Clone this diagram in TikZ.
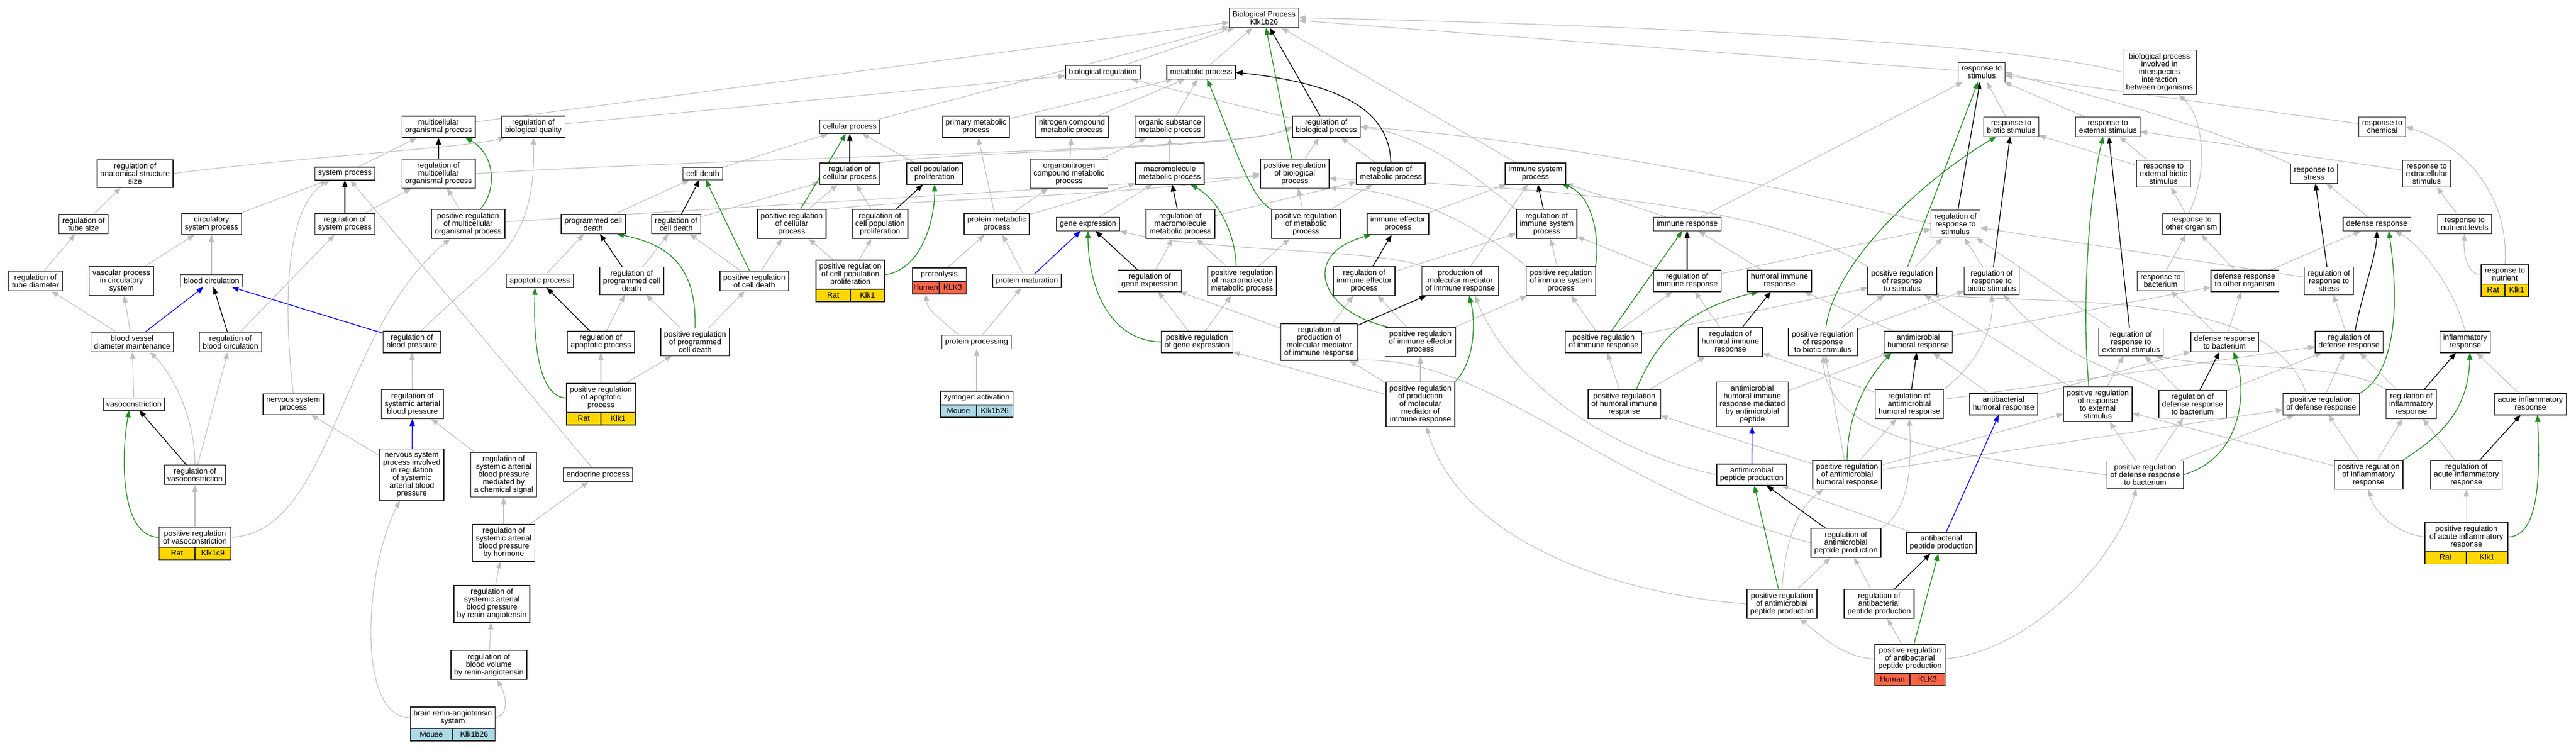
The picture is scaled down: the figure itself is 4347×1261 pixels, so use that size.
\documentclass[tikz,border=0pt]{standalone}
\usepackage{fontspec}
\setmainfont{Liberation Sans}
\usetikzlibrary{arrows.meta}
\pgfdeclarelayer{background}
\pgfsetlayers{background,main}
\definecolor{isagray}{RGB}{190,190,190}
\definecolor{posgreen}{RGB}{34,139,34}
\definecolor{ratgold}{RGB}{255,215,0}
\definecolor{humanred}{RGB}{255,99,71}
\definecolor{mouseblue}{RGB}{173,216,230}
\tikzset{
  term/.style={draw=black!85, line width=1.3pt, fill=white, align=center, outer sep=0pt,
    inner xsep=5.5pt, inner ysep=5.5pt, font=\fontsize{13}{13}\selectfont},
  genecell/.style={draw=black!85, line width=1.3pt, outer sep=0pt, inner sep=0pt,
    minimum height=21pt, text height=9.5pt, text depth=2.5pt, font=\fontsize{13}{13}\selectfont},
  isa/.style={draw=isagray, line width=1.1pt, -{Triangle[length=12pt,width=9pt]}},
  regs/.style={draw=black, line width=1.3pt, -{Triangle[length=12pt,width=9pt]}},
  posregs/.style={draw=posgreen, line width=1.3pt, -{Triangle[length=12pt,width=9pt]}},
  partof/.style={draw=blue, line width=1.3pt, -{Triangle[length=12pt,width=9pt]}}
}

\begin{document}
\begin{tikzpicture}[x=1pt, y=-1pt]
\useasboundingbox (0,0) rectangle (4347,1261);

\node[term] (bioproc) at (2133,30) {Biological Process\\Klk1b26};
\node[term] (biolreg) at (1861,122) {biological regulation};
\node[term] (metproc) at (2027,122) {metabolic process};
\node[term] (respstim) at (3344,122) {response to\\stimulus};
\node[term] (interspec) at (3644,122) {biological process\\involved in\\interspecies\\interaction\\between organisms};

\node[term] (multiorg) at (740,214) {multicellular\\organismal process};
\node[term] (bioqual) at (900,214) {regulation of\\biological quality};
\node[term] (cellproc) at (1434,214) {cellular process};
\node[term] (primmet) at (1647,214) {primary metabolic\\process};
\node[term] (nitromet) at (1809,214) {nitrogen compound\\metabolic process};
\node[term] (orgsubmet) at (1974,214) {organic substance\\metabolic process};
\node[term] (regbioproc) at (2238,214) {regulation of\\biological process};
\node[term] (respbiotic) at (3394,214) {response to\\biotic stimulus};
\node[term] (respext) at (3557,214) {response to\\external stimulus};
\node[term] (respchem) at (4020,214) {response to\\chemical};

\node[term] (anatsize) at (228,293) {regulation of\\anatomical structure\\size};
\node[term] (sysproc) at (582,293) {system process};
\node[term] (regmultiorg) at (740,293) {regulation of\\multicellular\\organismal process};
\node[term] (celldeath) at (1186,293) {cell death};
\node[term] (regcellproc) at (1434,293) {regulation of\\cellular process};
\node[term] (cellprolif) at (1577,293) {cell population\\proliferation};
\node[term] (orgnitromet) at (1804,293) {organonitrogen\\compound metabolic\\process};
\node[term] (macromet) at (1974,293) {macromolecule\\metabolic process};
\node[term] (posregbioproc) at (2185,293) {positive regulation\\of biological\\process};
\node[term] (regmetproc) at (2347,293) {regulation of\\metabolic process};
\node[term] (immsys) at (2591,293) {immune system\\process};
\node[term] (respextbiotic) at (3651,293) {response to\\external biotic\\stimulus};
\node[term] (respstress) at (3905,293) {response to\\stress};
\node[term] (respextracell) at (4095,293) {response to\\extracellular\\stimulus};

\node[term] (tubesize) at (141,378) {regulation of\\tube size};
\node[term] (circsys) at (357,378) {circulatory\\system process};
\node[term] (regsys) at (582,378) {regulation of\\system process};
\node[term] (posmultiorg) at (790,378) {positive regulation\\of multicellular\\organismal process};
\node[term] (pcd) at (1001,378) {programmed cell\\death};
\node[term] (regcelldeath) at (1141,378) {regulation of\\cell death};
\node[term] (posregcell) at (1336,378) {positive regulation\\of cellular\\process};
\node[term] (regcellprolif) at (1485,378) {regulation of\\cell population\\proliferation};
\node[term] (protmet) at (1682,378) {protein metabolic\\process};
\node[term] (geneexp) at (1836,378) {gene expression};
\node[term] (regmacromet) at (1992,378) {regulation of\\macromolecule\\metabolic process};
\node[term] (posregmetproc) at (2204,378) {positive regulation\\of metabolic\\process};
\node[term] (immeff) at (2359,378) {immune effector\\process};
\node[term] (regimmsys) at (2610,378) {regulation of\\immune system\\process};
\node[term] (immresp) at (2847,378) {immune response};
\node[term] (regrespstim) at (3300,378) {regulation of\\response to\\stimulus};
\node[term] (respother) at (3698,378) {response to\\other organism};
\node[term] (defresp) at (4011,378) {defense response};
\node[term] (respnutlev) at (4159,378) {response to\\nutrient levels};

\node[term] (tubediam) at (60,474) {regulation of\\tube diameter};
\node[term] (vascproc) at (205,474) {vascular process\\in circulatory\\system};
\node[term] (bloodcirc) at (357,474) {blood circulation};
\node[term] (apop) at (911,474) {apoptotic process};
\node[term] (regpcd) at (1066,474) {regulation of\\programmed cell\\death};
\node[term] (posregcelldeath) at (1273,474) {positive regulation\\of cell death};
\node[term, minimum width=116pt] (posregcellprolif) at (1435,463.5) {positive regulation\\of cell population\\proliferation};
\node[genecell, fill=ratgold, minimum width=58pt, anchor=north west] (posregcellprolif-s) at (posregcellprolif.south west) {Rat};
\node[genecell, fill=ratgold, minimum width=58pt, anchor=north east] (posregcellprolif-g) at (posregcellprolif.south east) {Klk1};
\node[term, minimum width=91pt] (proteolysis) at (1585,463.5) {proteolysis};
\node[genecell, fill=humanred, minimum width=45.5pt, anchor=north west] (proteolysis-s) at (proteolysis.south west) {Human};
\node[genecell, fill=humanred, minimum width=45.5pt, anchor=north east] (proteolysis-g) at (proteolysis.south east) {KLK3};
\node[term] (protmat) at (1733,474) {protein maturation};
\node[term] (reggeneexp) at (1940,474) {regulation of\\gene expression};
\node[term] (posregmacromet) at (2096,474) {positive regulation\\of macromolecule\\metabolic process};
\node[term] (regimmeff) at (2302,474) {regulation of\\immune effector\\process};
\node[term] (prodmol) at (2464,474) {production of\\molecular mediator\\of immune response};
\node[term] (posregimmsys) at (2634,474) {positive regulation\\of immune system\\process};
\node[term] (regimmresp) at (2847,474) {regulation of\\immune response};
\node[term] (humoral) at (3003,474) {humoral immune\\response};
\node[term] (posregrespstim) at (3210,474) {positive regulation\\of response\\to stimulus};
\node[term] (regrespbiotic) at (3361,474) {regulation of\\response to\\biotic stimulus};
\node[term] (respbact) at (3646,474) {response to\\bacterium};
\node[term] (defother) at (3788,474) {defense response\\to other organism};
\node[term] (regrespstress) at (3930,474) {regulation of\\response to\\stress};
\node[term, minimum width=80pt] (respnut) at (4227,463) {response to\\nutrient};
\node[genecell, fill=ratgold, minimum width=40pt, anchor=north west] (respnut-s) at (respnut.south west) {Rat};
\node[genecell, fill=ratgold, minimum width=40pt, anchor=north east] (respnut-g) at (respnut.south east) {Klk1};

\node[term] (bvdm) at (223,577) {blood vessel\\diameter maintenance};
\node[term] (regbloodcirc) at (389,577) {regulation of\\blood circulation};
\node[term] (regbp) at (695,577) {regulation of\\blood pressure};
\node[term] (regapop) at (1014,577) {regulation of\\apoptotic process};
\node[term] (posregpcd) at (1173,577) {positive regulation\\of programmed\\cell death};
\node[term] (protproc) at (1648,577) {protein processing};
\node[term] (posreggeneexp) at (2020,577) {positive regulation\\of gene expression};
\node[term] (regprodmol) at (2226,577) {regulation of\\production of\\molecular mediator\\of immune response};
\node[term] (posregimmeff) at (2397,577) {positive regulation\\of immune effector\\process};
\node[term] (posregimmresp) at (2706,577) {positive regulation\\of immune response};
\node[term] (reghumoral) at (2920,577) {regulation of\\humoral immune\\response};
\node[term] (posregrespbiotic) at (3076,577) {positive regulation\\of response\\to biotic stimulus};
\node[term] (antimicrohum) at (3237,577) {antimicrobial\\humoral response};
\node[term] (regrespext) at (3596,577) {regulation of\\response to\\external stimulus};
\node[term] (defbact) at (3754,577) {defense response\\to bacterium};
\node[term] (regdefresp) at (3964,577) {regulation of\\defense response};
\node[term] (inflam) at (4160,577) {inflammatory\\response};

\node[term] (vasocon) at (226,682) {vasoconstriction};
\node[term] (nervsys) at (495,682) {nervous system\\process};
\node[term] (regsysart) at (696,682) {regulation of\\systemic arterial\\blood pressure};
\node[term, minimum width=116pt] (posapop) at (1014,671.5) {positive regulation\\of apoptotic\\process};
\node[genecell, fill=ratgold, minimum width=58pt, anchor=north west] (posapop-s) at (posapop.south west) {Rat};
\node[genecell, fill=ratgold, minimum width=58pt, anchor=north east] (posapop-g) at (posapop.south east) {Klk1};
\node[term, minimum width=122pt] (zymogen) at (1648,671.5) {zymogen activation};
\node[genecell, fill=mouseblue, minimum width=61pt, anchor=north west] (zymogen-s) at (zymogen.south west) {Mouse};
\node[genecell, fill=mouseblue, minimum width=61pt, anchor=north east] (zymogen-g) at (zymogen.south east) {Klk1b26};
\node[term] (posregprodmol) at (2397,682) {positive regulation\\of production\\of molecular\\mediator of\\immune response};
\node[term] (posreghumoral) at (2741,682) {positive regulation\\of humoral immune\\response};
\node[term] (antimicrohumpep) at (2957,682) {antimicrobial\\humoral immune\\response mediated\\by antimicrobial\\peptide};
\node[term] (regantimicrohum) at (3222,682) {regulation of\\antimicrobial\\humoral response};
\node[term] (antibachum) at (3381,682) {antibacterial\\humoral response};
\node[term] (posregrespext) at (3540,682) {positive regulation\\of response\\to external\\stimulus};
\node[term] (regdefbact) at (3700,682) {regulation of\\defense response\\to bacterium};
\node[term] (posregdefresp) at (3917,682) {positive regulation\\of defense response};
\node[term] (reginflam) at (4069,682) {regulation of\\inflammatory\\response};
\node[term] (acuteinflam) at (4270,682) {acute inflammatory\\response};

\node[term] (regvasocon) at (329,801) {regulation of\\vasoconstriction};
\node[term] (nervinv) at (695,801) {nervous system\\process involved\\in regulation\\of systemic\\arterial blood\\pressure};
\node[term] (regsysartchem) at (850,801) {regulation of\\systemic arterial\\blood pressure\\mediated by\\a chemical signal};
\node[term] (endocrine) at (1009,801) {endocrine process};
\node[term] (antimicropep) at (2956,801) {antimicrobial\\peptide production};
\node[term] (posregantimicrohum) at (3117,801) {positive regulation\\of antimicrobial\\humoral response};
\node[term] (posregdefbact) at (3620,801) {positive regulation\\of defense response\\to bacterium};
\node[term] (posreginflam) at (3997,801) {positive regulation\\of inflammatory\\response};
\node[term] (regacute) at (4162,801) {regulation of\\acute inflammatory\\response};

\node[term, minimum width=121pt] (posvasocon) at (329,906.5) {positive regulation\\of vasoconstriction};
\node[genecell, fill=ratgold, minimum width=60.5pt, anchor=north west] (posvasocon-s) at (posvasocon.south west) {Rat};
\node[genecell, fill=ratgold, minimum width=60.5pt, anchor=north east] (posvasocon-g) at (posvasocon.south east) {Klk1c9};
\node[term] (regsysarthorm) at (850,916) {regulation of\\systemic arterial\\blood pressure\\by hormone};
\node[term] (regantimicropep) at (3115,916) {regulation of\\antimicrobial\\peptide production};
\node[term] (antibacpep) at (3276,916) {antibacterial\\peptide production};
\node[term, minimum width=140pt] (posregacute) at (4162,906) {positive regulation\\of acute inflammatory\\response};
\node[genecell, fill=ratgold, minimum width=70pt, anchor=north west] (posregacute-s) at (posregacute.south west) {Rat};
\node[genecell, fill=ratgold, minimum width=70pt, anchor=north east] (posregacute-g) at (posregacute.south east) {Klk1};

\node[term] (regsysartrenin) at (830,1019) {regulation of\\systemic arterial\\blood pressure\\by renin-angiotensin};
\node[term] (posregantimicropep) at (3007,1019) {positive regulation\\of antimicrobial\\peptide production};
\node[term] (regantibacpep) at (3171,1019) {regulation of\\antibacterial\\peptide production};

\node[term] (regbloodvol) at (825,1122) {regulation of\\blood volume\\by renin-angiotensin};
\node[term, minimum width=119pt] (posregantibacpep) at (3223,1111.5) {positive regulation\\of antibacterial\\peptide production};
\node[genecell, fill=humanred, minimum width=59.5pt, anchor=north west] (posregantibacpep-s) at (posregantibacpep.south west) {Human};
\node[genecell, fill=humanred, minimum width=59.5pt, anchor=north east] (posregantibacpep-g) at (posregantibacpep.south east) {KLK3};

\node[term, minimum width=142pt] (brainrenin) at (764,1211) {brain renin-angiotensin\\system};
\node[genecell, fill=mouseblue, minimum width=71pt, anchor=north west] (brainrenin-s) at (brainrenin.south west) {Mouse};
\node[genecell, fill=mouseblue, minimum width=71pt, anchor=north east] (brainrenin-g) at (brainrenin.south east) {Klk1b26};

\begin{pgfonlayer}{background}
\fill[white] (0,0) rectangle (4347,1261);

\foreach \a/\b in {tubesize/anatsize, tubediam/tubesize, circsys/sysproc, vascproc/circsys,
  bloodcirc/circsys, bvdm/tubediam, bvdm/vascproc, regbloodcirc/regsys, regsys/regmultiorg,
  sysproc/multiorg, multiorg/bioproc, bioqual/biolreg, posmultiorg/regmultiorg,
  posmultiorg/posregbioproc, regvasocon/regbloodcirc, vasocon/bvdm, posvasocon/regvasocon,
  endocrine/sysproc, nervinv/nervsys, regsysart/regbp, regsysartchem/regsysart,
  regsysarthorm/regsysartchem, regsysarthorm/endocrine, regsysartrenin/regsysarthorm,
  regbloodvol/regsysartrenin}
  \draw[isa] (\a) -- (\b);

\foreach \a/\b in {cellproc/bioproc, celldeath/cellproc, pcd/celldeath, regcelldeath/regcellproc,
  posregcelldeath/regcelldeath, posregcelldeath/posregcell, posregcell/regcellproc, apop/pcd,
  regpcd/regcelldeath, posregpcd/regpcd, posregpcd/posregcelldeath, regapop/regpcd,
  posapop/regapop, posapop/posregpcd, posregcellprolif/posregcell,
  posregcellprolif/regcellprolif, regcellprolif/regcellproc, cellprolif/cellproc}
  \draw[isa] (\a) -- (\b);

\foreach \a/\b in {biolreg/bioproc, metproc/bioproc, primmet/metproc, nitromet/metproc,
  orgsubmet/metproc, orgnitromet/nitromet, orgnitromet/orgsubmet, macromet/orgsubmet,
  protmet/primmet, protmet/orgnitromet, protmet/macromet, geneexp/macromet,
  regmacromet/regmetproc, posregmacromet/regmacromet, posregmacromet/posregmetproc,
  proteolysis/protmet, protmat/protmet, reggeneexp/regmacromet, posreggeneexp/reggeneexp,
  posreggeneexp/posregmacromet, protproc/protmat, zymogen/protproc, regbioproc/biolreg,
  regmetproc/regbioproc, posregbioproc/regbioproc, posregmetproc/regmetproc,
  posregmetproc/posregbioproc}
  \draw[isa] (\a) -- (\b);

\foreach \a/\b in {immsys/bioproc, immeff/immsys, immresp/immsys, immresp/respstim,
  posregimmsys/regimmsys, regimmeff/regimmsys, prodmol/immsys, regimmresp/regimmsys,
  regimmresp/regrespstim, humoral/immresp, regprodmol/regimmeff, regprodmol/reggeneexp,
  posregimmeff/regimmeff, posregimmeff/posregimmsys, posregimmresp/regimmresp,
  posregimmresp/posregimmsys, posregimmresp/posregrespstim, posregprodmol/regprodmol,
  posregprodmol/posregimmeff, posregprodmol/posreggeneexp, posreghumoral/posregimmresp,
  posreghumoral/reghumoral, posregantimicrohum/posreghumoral}
  \draw[isa] (\a) -- (\b);

\foreach \a/\b in {respstim/bioproc, respbiotic/respstim, respext/respstim, respchem/respstim,
  respextracell/respext, posregrespstim/regrespstim, regrespbiotic/regrespstim,
  posregrespbiotic/posregrespstim, posregrespbiotic/regrespbiotic, reghumoral/regimmresp,
  antimicrohum/humoral, antimicrohum/defother, regrespstress/regrespstim,
  regrespext/regrespstim, posregrespext/posregrespstim, posregrespext/regrespext,
  regantimicrohum/regdefresp, regantimicrohum/reghumoral}
  \draw[isa] (\a) -- (\b);

\foreach \a/\b in {respextbiotic/respext, respextbiotic/respbiotic, respother/respextbiotic,
  respbact/respother, defother/respother, defother/defresp, defresp/respstress,
  respnutlev/respextracell, regdefresp/regrespstress, defbact/respbact, defbact/defother,
  regdefbact/regrespext, regdefbact/regdefresp, posregdefresp/regdefresp,
  reginflam/regdefresp, posreginflam/reginflam, posreginflam/posregdefresp,
  posreginflam/posregrespext, acuteinflam/inflam, regacute/reginflam, posregacute/regacute,
  posregdefbact/regdefbact, posregdefbact/posregrespext, posregdefbact/posregdefresp}
  \draw[isa] (\a) -- (\b);

\foreach \a/\b in {antibachum/defbact, antibachum/antimicrohum, antibacpep/antimicropep,
  antimicrohumpep/antimicrohum, posregantimicrohum/regantimicrohum,
  posregantimicrohum/posregrespbiotic, posregantimicrohum/posregdefresp,
  posregantimicrohum/posregrespext, posregantimicropep/regantimicropep,
  regantibacpep/regantimicropep, posregantibacpep/regantibacpep}
  \draw[isa] (\a) -- (\b);

\draw[isa] (anatsize.east) .. controls (500,265) and (780,250) .. ([xshift=6pt]bioqual.south west);
\draw[isa] ([xshift=15pt]regbp.north) .. controls (830,440) and (905,420) .. (bioqual.south);
\draw[isa] (regvasocon.north) .. controls (330,720) and (300,640) .. ([xshift=30pt]bvdm.south);
\draw[isa] (posvasocon.east) .. controls (560,900) and (570,560) .. ([xshift=-30pt]posmultiorg.south);
\draw[isa] (nervsys.north) .. controls (478,520) and (480,350) .. ([xshift=-25pt]sysproc.south);
\draw[isa] (brainrenin.west) .. controls (600,1211) and (615,960) .. ([xshift=-20pt]nervinv.south);
\draw[isa] (brainrenin.east) .. controls (862,1205) and (852,1170) .. ([xshift=14pt]regbloodvol.south);
\draw[isa] ([xshift=-30pt]protproc.north) .. controls (1590,540) and (1565,525) .. (proteolysis-s.south);
\draw[isa] (regmultiorg.east) .. controls (1300,262) and (2100,255) .. (regbioproc.west);
\draw[isa] (regcellproc.north east) .. controls (1600,255) and (2100,252) .. (regbioproc.west);
\draw[isa] (posregcell.north east) .. controls (1550,335) and (1950,330) .. (posregbioproc.west);
\draw[isa] (regimmsys.north west) .. controls (2480,290) and (2400,228) .. (regbioproc.east);
\draw[isa] (regrespstim.west) .. controls (2950,300) and (2600,235) .. (regbioproc.east);
\draw[isa] (posregimmsys.north west) .. controls (2450,345) and (2330,318) .. (posregbioproc.south east);
\draw[isa] (posregrespstim.north west) .. controls (3000,350) and (2650,318) .. ([yshift=-8pt]posregbioproc.east);
\draw[isa] (prodmol.north west) .. controls (2330,420) and (2030,425) .. (geneexp.south east);
\draw[isa] (antimicropep.west) .. controls (2700,760) and (2540,630) .. ([xshift=25pt]prodmol.south);
\draw[isa] (regantimicropep.west) .. controls (2700,820) and (2520,600) .. ([xshift=55pt]regprodmol.south);
\draw[isa] (posregantimicropep.west) .. controls (2700,1000) and (2460,900) .. ([xshift=10pt]posregprodmol.south);
\draw[isa] (posregantimicropep.north) .. controls (3012,920) and (3030,860) .. ([xshift=-40pt]posregantimicrohum.south);
\draw[isa] (posregdefbact.west) .. controls (3250,765) and (3085,730) .. (posregrespbiotic.south);
\draw[isa] (posregantibacpep.east) .. controls (3420,1100) and (3570,950) .. ([xshift=-15pt]posregdefbact.south);
\draw[isa] (posregantibacpep.west) .. controls (3110,1110) and (3070,1070) .. ([xshift=30pt]posregantimicropep.south);
\draw[isa] (regantimicropep.north east) .. controls (3225,860) and (3225,780) .. (regantimicrohum.south);
\draw[isa] (regantimicrohum.north east) .. controls (3330,620) and (3365,560) .. (regrespbiotic.south);
\draw[isa] (regdefbact.north west) .. controls (3590,630) and (3480,610) .. ([xshift=20pt]regrespbiotic.south);
\draw[isa] (reginflam.north west) .. controls (3960,610) and (3760,625) .. ([xshift=40pt]regrespext.south);
\draw[isa] ([xshift=-25pt]posregdefresp.north) .. controls (3830,490) and (3500,515) .. ([xshift=50pt]posregrespstim.south);
\draw[isa] (respstress.north west) .. controls (3700,200) and (3480,150) .. (respstim.east);
\draw[isa] (interspec.west) .. controls (3400,70) and (2700,40) .. (bioproc.east);
\draw[isa] (respnut.west) .. controls (4160,463) and (4157,420) .. (respnutlev.south);
\draw[isa] (respnut.north) .. controls (4235,330) and (4160,245) .. (respchem.east);
\draw[isa] ([xshift=-5pt]respother.north) .. controls (3725,300) and (3722,200) .. ([xshift=32pt]interspec.south);
\draw[isa] (inflam.north) .. controls (4140,480) and (4080,410) .. ([xshift=30pt]defresp.south);
\draw[isa] (posregacute.west) .. controls (4040,900) and (4005,860) .. (posreginflam.south);

\foreach \a/\b in {regsys/sysproc, regbloodcirc/bloodcirc, regmultiorg/multiorg, regvasocon/vasocon,
  regcelldeath/celldeath, regpcd/pcd, regapop/apop, regcellproc/cellproc,
  regcellprolif/cellprolif, regmacromet/macromet, reggeneexp/geneexp, regbioproc/bioproc,
  regimmsys/immsys, regimmeff/immeff, regimmresp/immresp, regprodmol/prodmol,
  reghumoral/humoral, regrespstim/respstim, regrespbiotic/respbiotic, regrespext/respext,
  regrespstress/respstress, reginflam/inflam, regacute/acuteinflam, regdefbact/defbact,
  regantimicrohum/antimicrohum, regantimicropep/antimicropep, regantibacpep/antibacpep}
  \draw[regs] (\a) -- (\b);
\draw[regs] (regmetproc.north) .. controls (2345,180) and (2250,140) .. (metproc.east);
\draw[regs] ([xshift=10pt]regdefresp.north) .. controls (3985,500) and (4010,430) .. (defresp.south);

\foreach \a/\b in {posregcelldeath/celldeath, posregcell/cellproc, posregbioproc/bioproc,
  posregimmresp/immresp, posregrespstim/respstim, posregantimicropep/antimicropep,
  posregantibacpep/antibacpep}
  \draw[posregs] (\a) -- (\b);
\draw[posregs] (posvasocon.west) .. controls (200,906) and (205,760) .. ([xshift=-8pt]vasocon.south);
\draw[posregs] ([xshift=20pt]posmultiorg.north) .. controls (840,320) and (835,260) .. ([xshift=45pt]multiorg.south);
\draw[posregs] (posapop.west) .. controls (905,671) and (900,560) .. ([xshift=-8pt]apop.south);
\draw[posregs] (posregcellprolif.east) .. controls (1560,455) and (1578,360) .. (cellprolif.south);
\draw[posregs] (posreggeneexp.west) .. controls (1870,575) and (1836,480) .. (geneexp.south);
\draw[posregs] (posregacute.east) .. controls (4290,906) and (4285,780) .. ([xshift=12pt]acuteinflam.south);
\draw[posregs] ([xshift=-50pt]posregimmeff.north) .. controls (2230,530) and (2190,430) .. ([xshift=-45pt]immeff.south);
\draw[posregs] (posregdefresp.north east) .. controls (4060,620) and (4040,450) .. ([xshift=20pt]defresp.south);
\draw[posregs] (posregdefbact.east) .. controls (3790,770) and (3790,650) .. ([xshift=15pt]defbact.south);
\draw[posregs] (posreginflam.north east) .. controls (4110,740) and (4165,700) .. ([xshift=8pt]inflam.south);
\draw[posregs] ([xshift=5pt]posregrespbiotic.north) .. controls (3095,440) and (3250,300) .. ([xshift=-25pt]respbiotic.south);
\draw[posregs] ([xshift=-15pt]posregrespext.north) .. controls (3512,520) and (3525,330) .. ([xshift=-8pt]respext.south);
\draw[posregs] (posregantimicrohum.north) .. controls (3117,700) and (3150,640) .. ([xshift=-45pt]antimicrohum.south);
\draw[posregs] ([xshift=20pt]posreghumoral.north) .. controls (2790,590) and (2830,525) .. ([xshift=-35pt]humoral.south);
\draw[posregs] (posregimmsys.north east) .. controls (2700,410) and (2690,330) .. ([xshift=45pt]immsys.south);
\draw[posregs] (posregprodmol.north east) .. controls (2490,610) and (2490,540) .. ([xshift=15pt]prodmol.south);
\draw[posregs] (posregmetproc.north west) .. controls (2110,335) and (2085,250) .. ([xshift=10pt]metproc.south);
\draw[posregs] ([xshift=-10pt]posregmacromet.north) .. controls (2085,400) and (2060,340) .. ([xshift=35pt]macromet.south);
\draw[posregs] (posregpcd.north) .. controls (1175,460) and (1140,415) .. ([xshift=40pt]pcd.south);

\foreach \a/\b in {bvdm/bloodcirc, regbp/bloodcirc, nervinv/regsysart, protmat/geneexp,
  antimicropep/antimicrohumpep, antibacpep/antibachum}
  \draw[partof] (\a) -- (\b);
\end{pgfonlayer}

\end{tikzpicture}
\end{document}
